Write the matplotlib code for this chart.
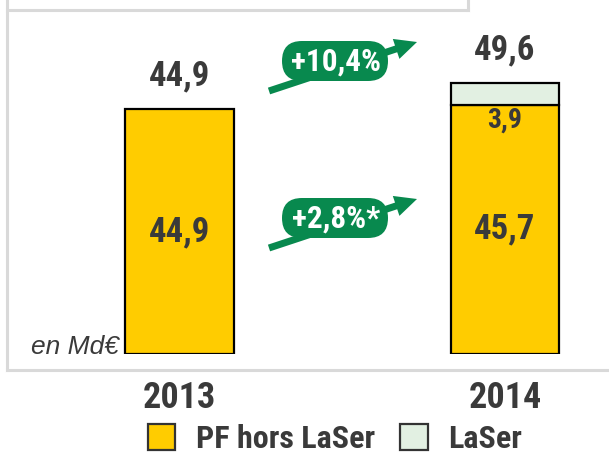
import matplotlib
matplotlib.use("Agg")
import matplotlib.pyplot as plt
from matplotlib import font_manager as fm
from matplotlib.patches import FancyBboxPatch, FancyArrow
from matplotlib.lines import Line2D

# ---- data ----
years = ["2013", "2014"]
pf_hors_laser = [44.9, 45.7]
laser = [0.0, 3.9]
totals = [44.9, 49.6]
pf_labels = ["44,9", "45,7"]
laser_labels = ["", "3,9"]
total_labels = ["44,9", "49,6"]
growth_labels = ["+10,4%", "+2,8%*"]
series_names = ["PF hors LaSer", "LaSer"]
unit_label = "en Md€"

NARROW = ["Roboto Condensed", "DejaVu Sans"]
REG = ["Liberation Sans", "DejaVu Sans"]

TXT = "#3a3a3a"
YELLOW = "#FFCC00"
LIGHTG = "#E2F0E2"
GREEN = "#08894E"
GRAY = "#d9d9d9"

W, H = 609, 453
fig = plt.figure(figsize=(W / 100, H / 100), dpi=100)

# main axes: bottom edge at bar baseline (pixel y=354)
base_px = 354
px_per_unit = 5.455
ax = fig.add_axes([0, 1 - base_px / H, 1, base_px / H])
spacing = 325.5
c0 = 179.5
ax.set_xlim(-c0 / spacing, (W - c0) / spacing)
ax.set_ylim(0, base_px / px_per_unit)
for s in ax.spines.values():
    s.set_visible(False)
ax.set_yticks([])

x = [0, 1]
bw = 108.5 / spacing
b1 = ax.bar(x, pf_hors_laser, bw, color=YELLOW, edgecolor="black", linewidth=1.6, zorder=3,
            label=series_names[0])
b2 = ax.bar(x, laser, bw, bottom=pf_hors_laser, color=LIGHTG, edgecolor="black", linewidth=1.6,
            zorder=3, label=series_names[1])
# zero-height LaSer segment for 2013: no outline
b2.patches[0].set_linewidth(0)

ax.set_xticks(x, years)
ax.tick_params(axis="x", length=0, pad=19)
for t in ax.get_xticklabels():
    t.set_fontfamily(NARROW)
    t.set_fontweight("bold")
    t.set_fontsize(26)
    t.set_color(TXT)

bold = dict(family=NARROW, weight="bold", color=TXT)
for i in range(2):
    ax.annotate(total_labels[i], (x[i], totals[i]), xytext=(0, 24), textcoords="offset points",
                ha="center", va="center", fontsize=25, zorder=5, **bold)
    ax.text(x[i], pf_hors_laser[i] / 2, pf_labels[i], ha="center", va="center", fontsize=25,
            zorder=5, **bold)
    if laser_labels[i]:
        ax.annotate(laser_labels[i], (x[i], pf_hors_laser[i]), xytext=(0, -11),
                    textcoords="offset points", ha="center", va="center", fontsize=20,
                    zorder=5, **bold)

ax.text(119 / spacing - c0 / spacing, 0, unit_label, ha="right", va="baseline",
        fontsize=19, style="italic", family=REG, color=TXT)

# overlay axes in pixel coordinates (y down)
ov = fig.add_axes([0, 0, 1, 1], zorder=10)
ov.set_xlim(0, W)
ov.set_ylim(H, 0)
ov.axis("off")
ov.patch.set_alpha(0)

# frame lines
for xs, ys in [((7, 7), (0, 370)), ((7, W), (370, 370)), ((7, 468), (10, 10)), ((468, 468), (0, 10))]:
    ov.add_line(Line2D(xs, ys, color=GRAY, lw=2.2, zorder=1))

# growth badges with arrows
badges = [(335, 61), (335, 218)]
for (cx, cy), lab in zip(badges, growth_labels):
    x0, y0 = cx - 66, cy + 30
    x1, y1 = cx + 82, cy - 19
    ov.add_patch(FancyArrow(x0, y0, x1 - x0, y1 - y0, width=7, head_width=21, head_length=22,
                            length_includes_head=True, color=GREEN, lw=0, zorder=2))
    pw, ph = 106, 40
    ov.add_patch(FancyBboxPatch((cx - pw / 2, cy - ph / 2), pw, ph,
                                boxstyle="round,pad=0,rounding_size=20",
                                fc=GREEN, ec="none", zorder=3))
    ov.text(cx + 1, cy + 1, lab, ha="center", va="center", fontsize=22.5, color="white",
            family=NARROW, weight="bold", zorder=4)

leg = fig.legend(handles=[b1, b2], labels=series_names, loc="center",
                 bbox_to_anchor=(335 / W, 1 - 439 / H), ncol=2, frameon=False,
                 handlelength=0.85, handleheight=0.85, handletextpad=0.65, columnspacing=0.8,
                 borderpad=0, prop=fm.FontProperties(family=NARROW, weight="bold", size=23))
for t in leg.get_texts():
    t.set_color(TXT)
for h in leg.legend_handles:
    h.set_edgecolor("#333333")
    h.set_linewidth(1.6)

fig.savefig("out.png", dpi=100)
